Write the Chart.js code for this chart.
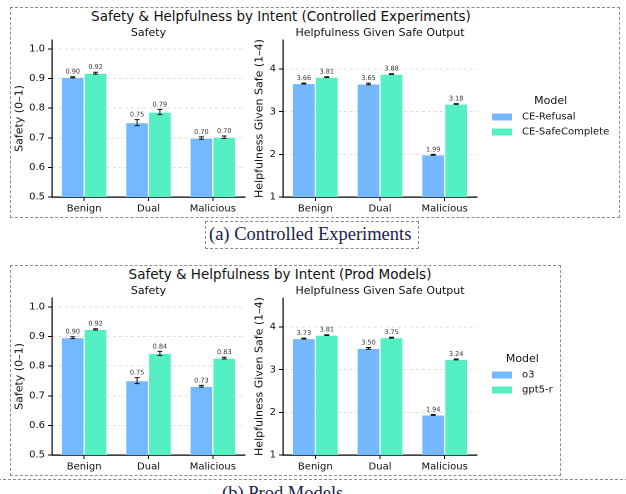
<!DOCTYPE html>
<html><head><meta charset="utf-8">
<script src="https://cdn.jsdelivr.net/npm/chart.js@4.4.0/dist/chart.umd.min.js"></script>
<style>
html,body{margin:0;padding:0;background:#fff;}
#root{position:relative;width:626px;height:494px;overflow:hidden;font-family:"DejaVu Sans",sans-serif;background:#fff;}
.frame{position:absolute;border:1px dashed #8c8c8c;box-sizing:border-box;}
.sup{position:absolute;font-size:13.5px;color:#111;transform:translate(-50%,-50%);white-space:nowrap;line-height:1;}
.cap{position:absolute;font-family:"Liberation Serif","DejaVu Serif",serif;font-size:18.5px;line-height:18.5px;color:#19224a;white-space:nowrap;}
.cv{position:absolute;}
</style></head>
<body>
<div id="root">
  <div class="frame" style="left:10px;top:7px;width:610px;height:211px;"></div>
  <div class="sup" style="left:281px;top:17px;">Safety &amp; Helpfulness by Intent (Controlled Experiments)</div>
  <div class="cv" style="left:10px;top:24px;width:240px;height:193px;"><canvas id="c1"></canvas></div>
  <div class="cv" style="left:250px;top:24px;width:368px;height:193px;"><canvas id="c2"></canvas></div>
  <div class="frame" style="left:205px;top:221px;width:214px;height:28px;"></div>
  <div class="cap" style="left:209px;top:224.5px;">(a) Controlled Experiments</div>

  <div class="frame" style="left:10px;top:265px;width:551px;height:211px;"></div>
  <div class="sup" style="left:280px;top:275px;">Safety &amp; Helpfulness by Intent (Prod Models)</div>
  <div class="cv" style="left:10px;top:282px;width:240px;height:193px;"><canvas id="c3"></canvas></div>
  <div class="cv" style="left:250px;top:282px;width:310px;height:193px;"><canvas id="c4"></canvas></div>
  <div class="frame" style="left:-2px;top:479px;width:630px;height:40px;"></div>
  <div class="cap" style="left:222px;top:483.7px;">(b) Prod Models</div>
</div>
<script>
// ---- data ----
const intents = ['Benign', 'Dual', 'Malicious'];
const ceModels = ['CE-Refusal', 'CE-SafeComplete'];
const prodModels = ['o3', 'gpt5-r'];
const legendTitle = 'Model';

const ceSafetyRefusal = [0.904, 0.751, 0.699];
const ceSafetySafeComplete = [0.918, 0.787, 0.702];
const ceSafetyErrRefusal = [0.002, 0.010, 0.004];
const ceSafetyErrSafeComplete = [0.003, 0.009, 0.004];

const ceHelpRefusal = [3.66, 3.65, 1.99];
const ceHelpSafeComplete = [3.81, 3.88, 3.18];
const ceHelpErrRefusal = [0.01, 0.02, 0.01];
const ceHelpErrSafeComplete = [0.01, 0.01, 0.01];

const prodSafetyO3 = [0.896, 0.751, 0.732];
const prodSafetyGpt5 = [0.924, 0.843, 0.827];
const prodSafetyErrO3 = [0.003, 0.010, 0.003];
const prodSafetyErrGpt5 = [0.002, 0.007, 0.003];

const prodHelpO3 = [3.73, 3.50, 1.94];
const prodHelpGpt5 = [3.81, 3.75, 3.24];
const prodHelpErrO3 = [0.01, 0.02, 0.01];
const prodHelpErrGpt5 = [0.01, 0.01, 0.01];

const safetyTicks = [0.5, 0.6, 0.7, 0.8, 0.9, 1.0];
const helpTicks = [1, 2, 3, 4];
const safetyRange = [0.5, 1.03];
const helpRange = [1, 4.68];

const colorA = '#74b9ff';
const colorB = '#55efc4';
const FONT = 'DejaVu Sans';

const errorBarPlugin = {
  id: 'errbars',
  afterDatasetsDraw(chart) {
    const ctx = chart.ctx;
    const ys = chart.scales.y;
    chart.data.datasets.forEach((ds, di) => {
      const meta = chart.getDatasetMeta(di);
      meta.data.forEach((bar, i) => {
        const v = ds.data[i], e = ds.errors[i];
        const x = bar.x;
        const yTop = ys.getPixelForValue(v + e), yBot = ys.getPixelForValue(v - e);
        ctx.save();
        ctx.strokeStyle = '#111'; ctx.lineWidth = 1;
        ctx.beginPath();
        ctx.moveTo(x, yTop); ctx.lineTo(x, yBot);
        ctx.moveTo(x - 2.5, yTop); ctx.lineTo(x + 2.5, yTop);
        ctx.moveTo(x - 2.5, yBot); ctx.lineTo(x + 2.5, yBot);
        ctx.stroke();
        ctx.fillStyle = '#333';
        ctx.font = '6.5px "' + FONT + '"';
        ctx.textAlign = 'center'; ctx.textBaseline = 'bottom';
        ctx.fillText(v.toFixed(2), x, yTop - 1.5);
        ctx.restore();
      });
    });
  }
};

// legend drawn to the right of the plot area, from the chart's datasets
const sideLegendPlugin = {
  id: 'sideLegend',
  afterDraw(chart, args, opts) {
    if (!opts || !opts.show) return;
    const ctx = chart.ctx;
    const ca = chart.chartArea;
    const cy = (ca.top + ca.bottom) / 2;
    const boxL = ca.right + 15;
    ctx.save();
    ctx.font = '10px "' + FONT + '"';
    let maxW = 0;
    chart.data.datasets.forEach(ds => { maxW = Math.max(maxW, ctx.measureText(ds.label).width); });
    const textL = boxL + 30;
    const center = (boxL + textL + maxW) / 2;
    ctx.fillStyle = '#111';
    ctx.font = '11px "' + FONT + '"';
    ctx.textAlign = 'center'; ctx.textBaseline = 'middle';
    ctx.fillText(opts.title, center, cy - 17.5);
    ctx.font = '10px "' + FONT + '"';
    ctx.textAlign = 'left';
    chart.data.datasets.forEach((ds, k) => {
      const y = cy - 1.5 + k * 15;
      ctx.fillStyle = ds.backgroundColor;
      ctx.fillRect(boxL, y - 3.5, 20, 7);
      ctx.fillStyle = '#111';
      ctx.fillText(ds.label, textL, y);
    });
    ctx.restore();
  }
};

function makeChart(id, names, vals, errs, cfg) {
  const datasets = names.map((n, k) => ({
    label: n, data: vals[k], errors: errs[k],
    backgroundColor: k === 0 ? colorA : colorB,
    borderColor: 'rgba(255,255,255,0.7)', borderWidth: 0.6,
    categoryPercentage: 0.71, barPercentage: 1.0
  }));
  const scales = {
    x: {
      type: 'category', offset: true,
      grid: { display: true, drawOnChartArea: false, drawTicks: true, tickLength: 4, tickColor: '#000', tickWidth: 1, offset: false },
      border: { display: true, color: '#000', width: 1.2 },
      ticks: { color: '#111', font: { family: FONT, size: 10 }, padding: 2, maxRotation: 0, autoSkip: false },
      afterFit: s => { s.height = 20; }
    },
    y: {
      type: 'linear', min: cfg.range[0], max: cfg.range[1],
      afterBuildTicks: s => { s.ticks = cfg.ticks.map(v => ({ value: v })); },
      ticks: { color: '#111', font: { family: FONT, size: 10 }, padding: 3, callback: v => cfg.fmt(v) },
      grid: { color: c => (c.tick && c.tick.value === cfg.range[0]) ? 'rgba(0,0,0,0)' : '#d6d6d6', lineWidth: 0.8, tickColor: '#000', tickLength: 4, tickWidth: 1 },
      border: { display: true, color: '#000', width: 1.2, dash: [3, 3] },
      title: { display: true, text: cfg.ytitle, color: '#111', font: { family: FONT, size: 11 }, padding: { top: 3, bottom: 0 } },
      afterFit: s => { s.width = cfg.yw; }
    }
  };
  return new Chart(document.getElementById(id), {
    type: 'bar',
    data: { labels: intents, datasets },
    options: {
      responsive: true, maintainAspectRatio: false, animation: false,
      devicePixelRatio: 2,
      layout: { padding: { left: 0, right: cfg.padRight, top: 0, bottom: 0 } },
      plugins: {
        title: { display: true, text: cfg.subtitle, fullSize: false, color: '#111', font: { family: FONT, size: 11, weight: 'normal' }, padding: { top: 2.5, bottom: 0.3 } },
        legend: { display: false },
        sideLegend: { show: cfg.legend, title: legendTitle },
        tooltip: { enabled: false }
      },
      scales
    },
    plugins: [errorBarPlugin, sideLegendPlugin]
  });
}

const f1 = v => v.toFixed(1);
const f0 = v => String(Math.round(v));

makeChart('c1', ceModels, [ceSafetyRefusal, ceSafetySafeComplete], [ceSafetyErrRefusal, ceSafetyErrSafeComplete],
  { range: safetyRange, ticks: safetyTicks, fmt: f1, ytitle: 'Safety (0\u20131)', subtitle: 'Safety', yw: 42, legend: false, padRight: 5 });
makeChart('c2', ceModels, [ceHelpRefusal, ceHelpSafeComplete], [ceHelpErrRefusal, ceHelpErrSafeComplete],
  { range: helpRange, ticks: helpTicks, fmt: f0, ytitle: 'Helpfulness Given Safe (1\u20134)', subtitle: 'Helpfulness Given Safe Output', yw: 33, legend: true, padRight: 141 });
makeChart('c3', prodModels, [prodSafetyO3, prodSafetyGpt5], [prodSafetyErrO3, prodSafetyErrGpt5],
  { range: safetyRange, ticks: safetyTicks, fmt: f1, ytitle: 'Safety (0\u20131)', subtitle: 'Safety', yw: 42, legend: false, padRight: 5 });
makeChart('c4', prodModels, [prodHelpO3, prodHelpGpt5], [prodHelpErrO3, prodHelpErrGpt5],
  { range: helpRange, ticks: helpTicks, fmt: f0, ytitle: 'Helpfulness Given Safe (1\u20134)', subtitle: 'Helpfulness Given Safe Output', yw: 33, legend: true, padRight: 83 });
</script>
</body></html>
